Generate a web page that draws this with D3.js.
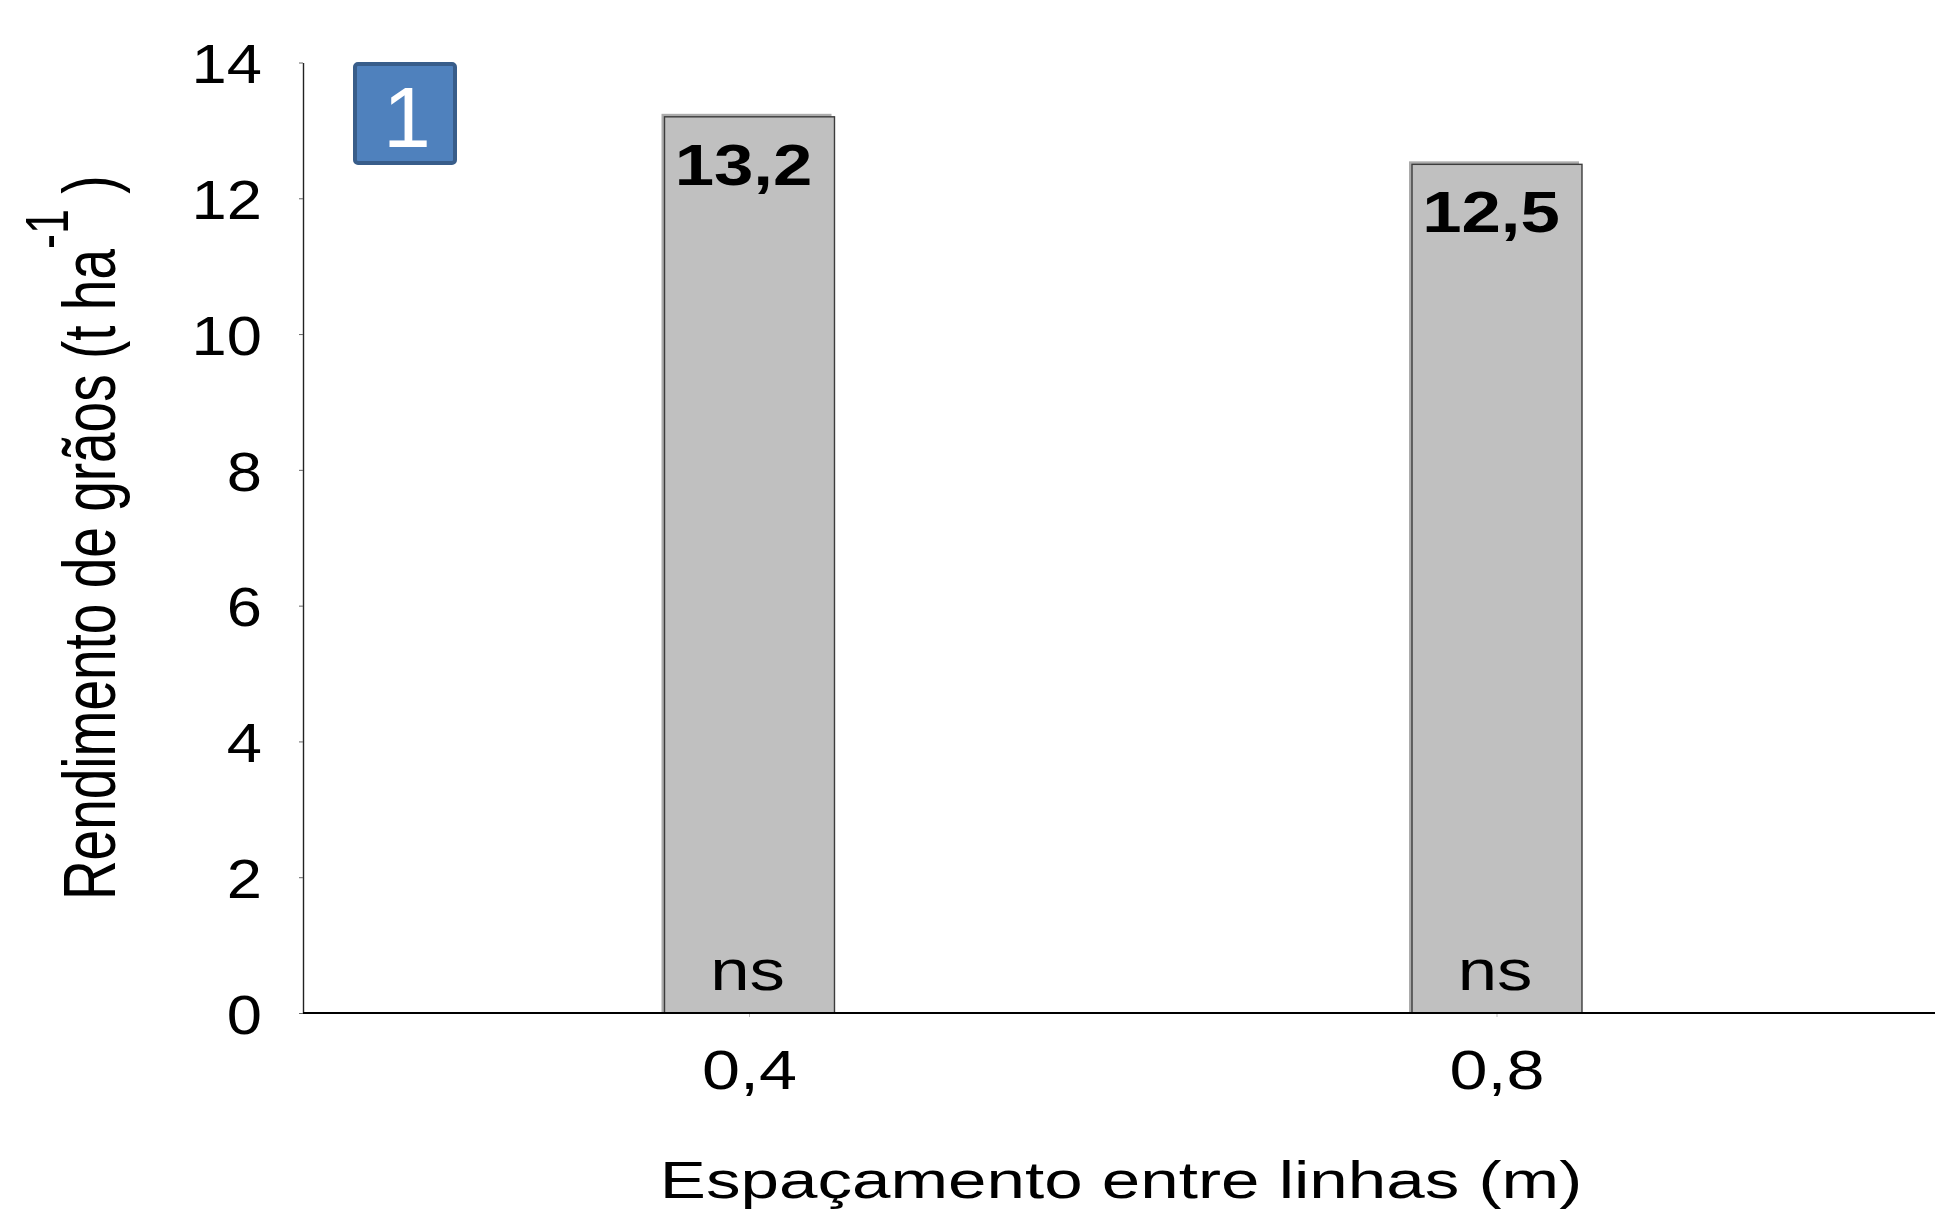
<!DOCTYPE html>
<html>
<head>
<meta charset="utf-8">
<script src="https://cdn.jsdelivr.net/npm/d3@7"></script>
<style>
  html, body { margin: 0; padding: 0; background: #ffffff; }
  svg { display: block; }
  text { font-family: "Liberation Sans", Arial, sans-serif; fill: #000; }
</style>
</head>
<body>
<svg id="chart" width="1935" height="1212"></svg>
<script>
// Grain yield by row spacing
const categories = ["0,4", "0,8"];
const yieldValues = [13.2, 12.5];
const valueLabels = ["13,2", "12,5"];
const significance = ["ns", "ns"];
const yTicks = [0, 2, 4, 6, 8, 10, 12, 14];
const yTickLabels = ["0", "2", "4", "6", "8", "10", "12", "14"];
const panelLabel = "1";

const W = 1935, H = 1212;
const axisX = 303;          // position of the vertical axis
const plotTop = 62.5, plotBottom = 1013;

// horizontal widening applied to glyphs
const kTick = 1.22, kTickY = 1.13, kTitleX = 1.33, kTitleY = 1.35;

const svg = d3.select("#chart");

const x = d3.scaleBand()
  .domain(categories)
  .range([375.75, 1870.75])
  .paddingInner(0.7726)
  .paddingOuter(0.7726 / 2);

const y = d3.scaleLinear().domain([0, 14]).range([plotBottom, plotTop]);

const rows = categories.map((c, i) => ({
  cat: c, value: yieldValues[i], label: valueLabels[i], sig: significance[i]
}));

// bars: light offset shade behind, then the grey column
const bars = svg.append("g").attr("class", "bars");
bars.selectAll("rect.shade")
  .data(rows)
  .join("rect")
  .attr("class", "shade")
  .attr("x", d => x(d.cat) - 3)
  .attr("y", d => y(d.value) - 3)
  .attr("width", x.bandwidth())
  .attr("height", d => y(0) - y(d.value) + 3)
  .attr("fill", "#ababab");

bars.selectAll("rect.bar")
  .data(rows)
  .join("rect")
  .attr("class", "bar")
  .attr("x", d => x(d.cat))
  .attr("y", d => y(d.value))
  .attr("width", x.bandwidth())
  .attr("height", d => y(0) - y(d.value))
  .attr("fill", "#c0c0c0")
  .attr("stroke", "#3c3c3c")
  .attr("stroke-width", 1.4);

// value labels inside the top of each bar
bars.selectAll("text.value")
  .data(rows)
  .join("text")
  .attr("class", "value")
  .attr("text-anchor", "middle")
  .attr("font-weight", "bold")
  .attr("font-size", 58)
  .attr("transform", d => `translate(${x(d.cat) + x.bandwidth() / 2 - 6},${y(d.value) + 68}) scale(${kTick},1)`)
  .text(d => d.label);

// significance marks at the base of each bar
bars.selectAll("text.sig")
  .data(rows)
  .join("text")
  .attr("class", "sig")
  .attr("text-anchor", "middle")
  .attr("font-size", 58)
  .attr("transform", d => `translate(${x(d.cat) + x.bandwidth() / 2 - 2},${y(0) - 23}) scale(${kTick},1)`)
  .text(d => d.sig);

// y axis
const yAxis = svg.append("g")
  .attr("transform", `translate(${axisX},0)`)
  .call(d3.axisLeft(y)
    .tickValues(yTicks)
    .tickFormat((d, i) => yTickLabels[i])
    .tickSizeInner(4)
    .tickSizeOuter(0));
yAxis.select(".domain").attr("stroke", "#222").attr("stroke-width", 1.4);
yAxis.selectAll(".tick line").attr("stroke", "#666");
yAxis.selectAll(".tick text")
  .attr("x", null)
  .attr("dy", "0.36em")
  .attr("font-size", 56)
  .attr("font-family", "Liberation Sans, Arial, sans-serif")
  .attr("transform", `translate(-41,0) scale(${kTickY},1)`);

// x axis: baseline across the full width, labels from the band scale
svg.append("line")
  .attr("x1", axisX).attr("x2", W)
  .attr("y1", y(0)).attr("y2", y(0))
  .attr("stroke", "#000")
  .attr("stroke-width", 2);

const xAxis = svg.append("g")
  .attr("transform", `translate(0,${y(0)})`)
  .call(d3.axisBottom(x).tickSizeInner(3).tickSizeOuter(0));
xAxis.select(".domain").remove();
xAxis.selectAll(".tick line").attr("stroke", "#bbb").attr("transform", "translate(0,1)");
xAxis.selectAll(".tick text")
  .attr("y", null)
  .attr("dy", null)
  .attr("font-size", 56)
  .attr("font-family", "Liberation Sans, Arial, sans-serif")
  .attr("transform", `translate(0,76) scale(${kTick},1)`);

// axis titles
svg.append("text")
  .attr("text-anchor", "middle")
  .attr("font-size", 52)
  .attr("transform", `translate(${(axisX + W) / 2 + 2},1198) scale(${kTitleX},1)`)
  .text("Espaçamento entre linhas (m)");

const yTitle = svg.append("text")
  .attr("text-anchor", "middle")
  .attr("font-size", 55)
  .attr("transform", `translate(115,${(plotTop + plotBottom) / 2}) scale(${kTitleY},1) rotate(-90)`);
yTitle.append("tspan").text("Rendimento de grãos (t ha");
yTitle.append("tspan").attr("font-size", 45).attr("dy", -35).text("-1");
yTitle.append("tspan").attr("font-size", 55).attr("dy", 35).text(" )");

// panel tag
const tag = svg.append("g").attr("transform", "translate(355,64)");
tag.append("rect")
  .attr("width", 100).attr("height", 99)
  .attr("rx", 3)
  .attr("fill", "#4f81bd")
  .attr("stroke", "#385d8a")
  .attr("stroke-width", 4);
tag.append("text")
  .attr("x", 52).attr("y", 83)
  .attr("text-anchor", "middle")
  .attr("font-family", "DejaVu Sans, sans-serif")
  .attr("font-size", 86)
  .style("fill", "#ffffff")
  .text(panelLabel);
</script>
</body>
</html>
